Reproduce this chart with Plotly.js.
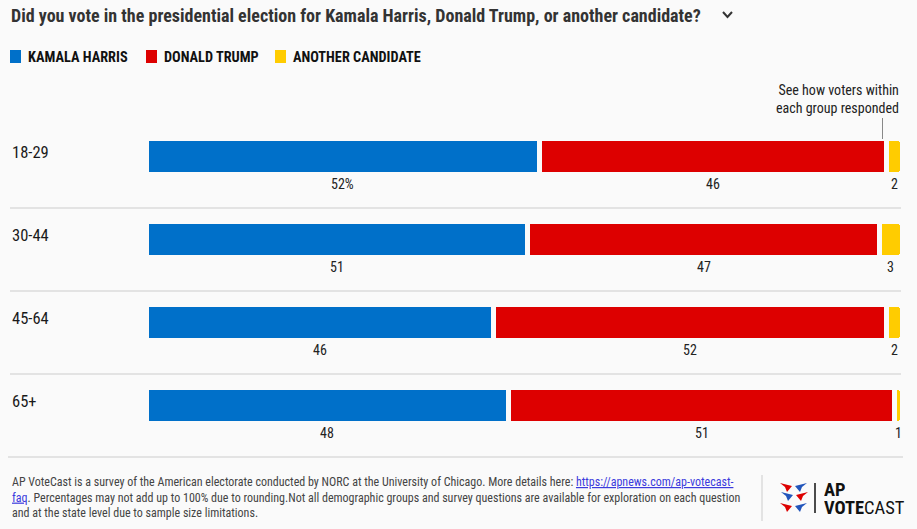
<!DOCTYPE html>
<html>
<head>
<meta charset="utf-8">
<script src="https://cdn.plot.ly/plotly-3.0.1.min.js"></script>
<style>
html,body{margin:0;padding:0;background:#fafafa;}
#chart{width:917px;height:529px;}
</style>
</head>
<body>
<div id="chart"></div>
<script>
// ---- data ----
var groups = ['18-29', '30-44', '45-64', '65+'];
var harris = [52, 51, 46, 48];
var trump = [46, 47, 52, 51];
var other = [2, 3, 2, 1];
var seriesNames = ['KAMALA HARRIS', 'DONALD TRUMP', 'ANOTHER CANDIDATE'];
var seriesColors = ['#0070c9', '#dd0000', '#ffcc00'];

var titleText = 'Did you vote in the presidential election for Kamala Harris, Donald Trump, or another candidate?';
var noteText = 'See how voters within<br>each group responded';
var footLines = [
  'AP VoteCast is a survey of the American electorate conducted by NORC at the University of Chicago. More details here: <span style="color:#3b3bdd;text-decoration:underline">https://apnews.com/ap-votecast-</span>',
  '<span style="color:#3b3bdd;text-decoration:underline">faq</span>. Percentages may not add up to 100% due to rounding.Not all demographic groups and survey questions are available for exploration on each question',
  'and at the state level due to sample size limitations.'
];

// ---- geometry helpers (layout only) ----
var W = 917, H = 529;
var mL = 146, mR = 15, mT = 115, mB = 82;
var PW = W - mL - mR, PH = H - mT - mB;
function X(px) { return (px - mL) / PW; }
function Y(py) { return (H - mB - py) / PH; }

var FONT = '"Liberation Sans Narrow", "Roboto Condensed", "DejaVu Sans Condensed", "Arial Narrow", sans-serif';
var BG = '#fafafa';

var seriesData = [harris, trump, other];
var traces = seriesData.map(function (vals, k) {
  return {
    type: 'bar', orientation: 'h',
    y: groups, x: vals, name: seriesNames[k],
    marker: { color: seriesColors[k], line: { color: BG, width: 5 } },
    hoverinfo: 'skip', showlegend: false
  };
});

var annotations = [];
var shapes = [];

// value labels under each segment
groups.forEach(function (g, i) {
  var vals = [harris[i], trump[i], other[i]];
  var tot = vals[0] + vals[1] + vals[2];
  var cum = 0;
  vals.forEach(function (v, k) {
    var mid = (cum + v / 2) / tot * 100;
    cum += v;
    annotations.push({
      x: mid, y: g, xref: 'x', yref: 'y', yshift: -27,
      text: (i === 0 && k === 0) ? v + '%' : String(v),
      showarrow: false, font: { family: FONT, size: 14, color: '#222' }
    });
  });
  // category label
  annotations.push({
    x: X(10), y: g, xref: 'paper', yref: 'y', yshift: 4, xanchor: 'left',
    text: g, showarrow: false, font: { family: FONT, size: 16.5, color: '#1a1a1a' }
  });
});

// separators between rows
[208, 291, 374].forEach(function (py) {
  shapes.push({ type: 'line', xref: 'paper', yref: 'paper', x0: X(10), x1: X(901), y0: Y(py), y1: Y(py),
    line: { color: '#cccccc', width: 1 } });
});
// footer rule
shapes.push({ type: 'line', xref: 'paper', yref: 'paper', x0: X(8), x1: X(903), y0: Y(457), y1: Y(457),
  line: { color: '#cccccc', width: 1 } });
// footer divider
shapes.push({ type: 'line', xref: 'paper', yref: 'paper', x0: X(762), x1: X(762), y0: Y(475), y1: Y(521),
  line: { color: '#cccccc', width: 1 } });
// note pointer
shapes.push({ type: 'line', xref: 'paper', yref: 'paper', x0: X(882.5), x1: X(882.5), y0: Y(118), y1: Y(139),
  line: { color: '#888888', width: 1 } });
// title chevron
shapes.push({ type: 'path', xref: 'paper', yref: 'paper',
  path: 'M' + X(723) + ',' + Y(12) + ' L' + X(727.5) + ',' + Y(17) + ' L' + X(732) + ',' + Y(12),
  line: { color: '#333', width: 2 } });

// legend (custom)
var legX = [10, 146, 275];
seriesNames.forEach(function (n, k) {
  shapes.push({ type: 'rect', xref: 'paper', yref: 'paper',
    x0: X(legX[k]), x1: X(legX[k] + 11), y0: Y(50), y1: Y(63),
    fillcolor: seriesColors[k], line: { width: 0 } });
  annotations.push({ x: X(legX[k] + 16), y: Y(57), xref: 'paper', yref: 'paper', xanchor: 'left', yanchor: 'middle',
    text: '<b>' + n + '</b>', showarrow: false, font: { family: FONT, size: 14.3, color: '#111' } });
});

// title
annotations.push({ x: X(9), y: Y(15), xref: 'paper', yref: 'paper', xanchor: 'left', yanchor: 'middle',
  text: '<b>' + titleText + '</b>', showarrow: false, font: { family: FONT, size: 18, color: '#333' } });

// note
annotations.push({ x: X(901), y: Y(99), xref: 'paper', yref: 'paper', xanchor: 'right', yanchor: 'middle', align: 'right',
  text: noteText, showarrow: false, font: { family: FONT, size: 14, color: '#222' } });

// footer text
annotations.push({ x: X(10), y: Y(498), xref: 'paper', yref: 'paper', xanchor: 'left', yanchor: 'middle', align: 'left',
  text: footLines.join('<br>'), showarrow: false, font: { family: FONT, size: 12, color: '#444' } });

// logo text
annotations.push({ x: X(823), y: Y(490), xref: 'paper', yref: 'paper', xanchor: 'left', yanchor: 'middle',
  height: 16, borderpad: 0,
  text: '<b>AP</b>', showarrow: false, font: { family: FONT, size: 18.5, color: '#111' } });
annotations.push({ x: X(823), y: Y(507.5), xref: 'paper', yref: 'paper', xanchor: 'left', yanchor: 'middle',
  height: 16, borderpad: 0,
  text: '<b>VOTE</b>CAST', showarrow: false, font: { family: FONT, size: 18.5, color: '#111' } });
shapes.push({ type: 'line', xref: 'paper', yref: 'paper', x0: X(815), x1: X(815), y0: Y(483), y1: Y(513),
  line: { color: '#111', width: 1.5 } });
// logo icon (arrows)
var icon = [
  [780, 483, '#dd0000', 1], [795, 483, '#2255bb', -1],
  [781, 492, '#2255bb', 1], [796, 492, '#dd0000', -1],
  [780, 503, '#dd0000', 1], [795, 503, '#2255bb', -1]
];
icon.forEach(function (c) {
  var x = c[0], y = c[1], d = c[3];
  var p;
  if (d > 0) {
    p = 'M' + X(x) + ',' + Y(y) + ' L' + X(x + 12) + ',' + Y(y + 3) + ' L' + X(x + 7) + ',' + Y(y + 9) + ' L' + X(x + 5) + ',' + Y(y + 4) + ' Z';
  } else {
    p = 'M' + X(x + 12) + ',' + Y(y) + ' L' + X(x) + ',' + Y(y + 3) + ' L' + X(x + 5) + ',' + Y(y + 9) + ' L' + X(x + 7) + ',' + Y(y + 4) + ' Z';
  }
  shapes.push({ type: 'path', xref: 'paper', yref: 'paper', path: p, fillcolor: c[2], line: { width: 0 } });
});

var layout = {
  width: W, height: H,
  paper_bgcolor: BG, plot_bgcolor: BG,
  margin: { l: mL, r: mR, t: mT, b: mB, pad: 0 },
  barmode: 'stack', barnorm: 'percent', bargap: 0.578,
  barcornerradius: 3,
  showlegend: false,
  xaxis: { range: [0, 100], visible: false, fixedrange: true },
  yaxis: { type: 'category', autorange: 'reversed', showticklabels: false, showgrid: false,
    zeroline: false, showline: false, ticks: '', fixedrange: true },
  annotations: annotations,
  shapes: shapes,
  font: { family: FONT }
};

Plotly.newPlot('chart', traces, layout, { displayModeBar: false, staticPlot: true });
</script>
</body>
</html>
